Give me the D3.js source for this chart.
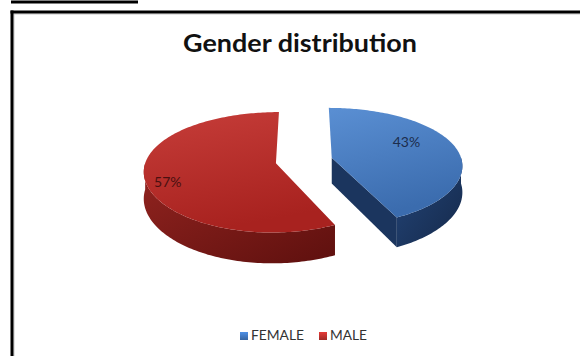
<!DOCTYPE html>
<html>
<head>
<meta charset="utf-8">
<script src="https://cdn.jsdelivr.net/npm/d3@7"></script>
<style>
  html, body { margin: 0; padding: 0; background: #fff; }
  svg { display: block; }
</style>
</head>
<body>
<svg id="chart" width="580" height="356"></svg>
<script>
// ---- data ----
const categories = ["FEMALE", "MALE"];
const shares = [43, 57];
const valueLabels = ["43%", "57%"];
const chartTitle = "Gender distribution";

// ---- palette (per category) ----
const topLight = ["#5a8fd3", "#c63d39"];
const topDark  = ["#3b6cae", "#a8221f"];
const wallLight = ["#24467a", "#932420"];
const wallDark  = ["#15294a", "#5e100e"];
const faceColor = ["#1b355e", "#6e1512"];
const legendColor = ["#3f74ba", "#b9302d"];
const labelColor = ["#1c2d4d", "#4a1010"];

// ---- 3D pie geometry ----
const CX = 304, CY = 160.4;      // projected centre of the (unexploded) pie
const RX = 130, RY = 58;         // horizontal / vertical radii of the top face
const DEPTH = 26;                // thickness of the disc
const KY = 0.15, KX = 0.12;      // mild perspective: nearer half drawn larger
const EXPLODE = 0.22;            // slice pull-out, in radius units

const svg = d3.select("#chart");
const defs = svg.append("defs");

// unit-disc coordinates (u right, v toward viewer) -> screen
function project(u, v, drop) {
  const sy = 1 / (1 - KY * v), sx = 1 / (1 - KX * v);
  return [CX + RX * u * sx, CY + (RY * v + drop * DEPTH) * sy];
}

const pie = d3.pie().sort(null).value(d => d).startAngle(0).endAngle(2 * Math.PI);
const arcs = pie(shares);
const line = d3.line();

function sampleAngles(a0, a1) {
  const n = Math.max(2, Math.ceil(Math.abs(a1 - a0) / 0.02));
  return d3.range(n + 1).map(i => a0 + (a1 - a0) * i / n);
}

// gradients
categories.forEach((c, i) => {
  const gt = defs.append("linearGradient").attr("id", "top" + i)
    .attr("x1", 0).attr("y1", 0).attr("x2", 0.3).attr("y2", 1);
  gt.append("stop").attr("offset", "0%").attr("stop-color", topLight[i]);
  gt.append("stop").attr("offset", "100%").attr("stop-color", topDark[i]);
  const gw = defs.append("linearGradient").attr("id", "wall" + i)
    .attr("x1", 0).attr("y1", 0).attr("x2", 1).attr("y2", 1);
  gw.append("stop").attr("offset", "0%").attr("stop-color", wallLight[i]);
  gw.append("stop").attr("offset", "100%").attr("stop-color", wallDark[i]);
  const gl = defs.append("linearGradient").attr("id", "leg" + i)
    .attr("x1", 0).attr("y1", 0).attr("x2", 0).attr("y2", 1);
  gl.append("stop").attr("offset", "0%").attr("stop-color", d3.color(legendColor[i]).brighter(0.6));
  gl.append("stop").attr("offset", "100%").attr("stop-color", d3.color(legendColor[i]).darker(0.4));
});

const pieG = svg.append("g");

arcs.forEach((a, i) => {
  const a0 = a.startAngle, a1 = a.endAngle, mid = (a0 + a1) / 2;
  const ex = EXPLODE * Math.sin(mid), ey = -EXPLODE * Math.cos(mid);
  const rim = (t, drop) => project(ex + Math.sin(t), ey - Math.cos(t), drop);
  const ctr = drop => project(ex, ey, drop);
  const g = pieG.append("g").attr("class", "slice " + categories[i]);

  // radial cut faces that turn toward the viewer
  const cutFace = t => [ctr(0), rim(t, 0), rim(t, 1), ctr(1)];
  if (-Math.sin(a0) > 1e-6) g.append("path").attr("d", line(cutFace(a0)) + "Z").attr("fill", faceColor[i]);
  if (Math.sin(a1) > 1e-6) g.append("path").attr("d", line(cutFace(a1)) + "Z").attr("fill", faceColor[i]);

  // outer wall, front half only
  const w0 = Math.max(a0, Math.PI / 2), w1 = Math.min(a1, 3 * Math.PI / 2);
  if (w1 > w0) {
    const ts = sampleAngles(w0, w1);
    const pts = ts.map(t => rim(t, 0)).concat(ts.slice().reverse().map(t => rim(t, 1)));
    g.append("path").attr("d", line(pts) + "Z").attr("fill", `url(#wall${i})`);
  }

  // top face
  const topPts = [ctr(0)].concat(sampleAngles(a0, a1).map(t => rim(t, 0)));
  g.append("path").attr("d", line(topPts) + "Z").attr("fill", `url(#top${i})`);

  // value label
  const la = mid - 10 * Math.PI / 180, lr = 0.76;
  const lp = project(ex + lr * Math.sin(la), ey - lr * Math.cos(la), 0);
  g.append("text")
    .attr("x", lp[0] - 12).attr("y", lp[1])
    .attr("text-anchor", "middle").attr("dominant-baseline", "central")
    .attr("font-family", "Lato, 'Open Sans', sans-serif").attr("font-size", 14)
    .attr("fill", labelColor[i])
    .text(valueLabels[i]);
});

// title
svg.append("text")
  .attr("x", 300).attr("y", 52)
  .attr("text-anchor", "middle")
  .attr("font-family", "Lato, 'Open Sans', sans-serif")
  .attr("font-weight", "bold").attr("font-size", 24)
  .attr("fill", "#111")
  .attr("textLength", 234).attr("lengthAdjust", "spacingAndGlyphs")
  .text(chartTitle);

// legend
const legendWidths = [53, 37];
const legend = svg.append("g").attr("class", "legend");
let lx = 240;
categories.forEach((c, i) => {
  legend.append("rect").attr("x", lx).attr("y", 332).attr("width", 8).attr("height", 8)
    .attr("fill", `url(#leg${i})`);
  legend.append("text").attr("x", lx + 11).attr("y", 340)
    .attr("font-family", "Lato, 'Open Sans', sans-serif").attr("font-size", 12.5)
    .attr("fill", "#333")
    .attr("textLength", legendWidths[i]).attr("lengthAdjust", "spacingAndGlyphs")
    .text(c);
  lx += 11 + legendWidths[i] + 15;
});

// frame
const frame = svg.append("g").attr("class", "frame");
frame.append("line").attr("x1", 11).attr("x2", 138).attr("y1", 2).attr("y2", 2)
  .attr("stroke", "#000").attr("stroke-width", 3);
frame.append("line").attr("x1", 11).attr("x2", 580).attr("y1", 14).attr("y2", 14)
  .attr("stroke", "#c8c8c8").attr("stroke-width", 1);
frame.append("line").attr("x1", 14).attr("x2", 14).attr("y1", 14).attr("y2", 356)
  .attr("stroke", "#c8c8c8").attr("stroke-width", 1);
frame.append("line").attr("x1", 10.5).attr("x2", 580).attr("y1", 12).attr("y2", 12)
  .attr("stroke", "#000").attr("stroke-width", 3);
frame.append("line").attr("x1", 12).attr("x2", 12).attr("y1", 10.5).attr("y2", 356)
  .attr("stroke", "#000").attr("stroke-width", 3);
</script>
</body>
</html>
